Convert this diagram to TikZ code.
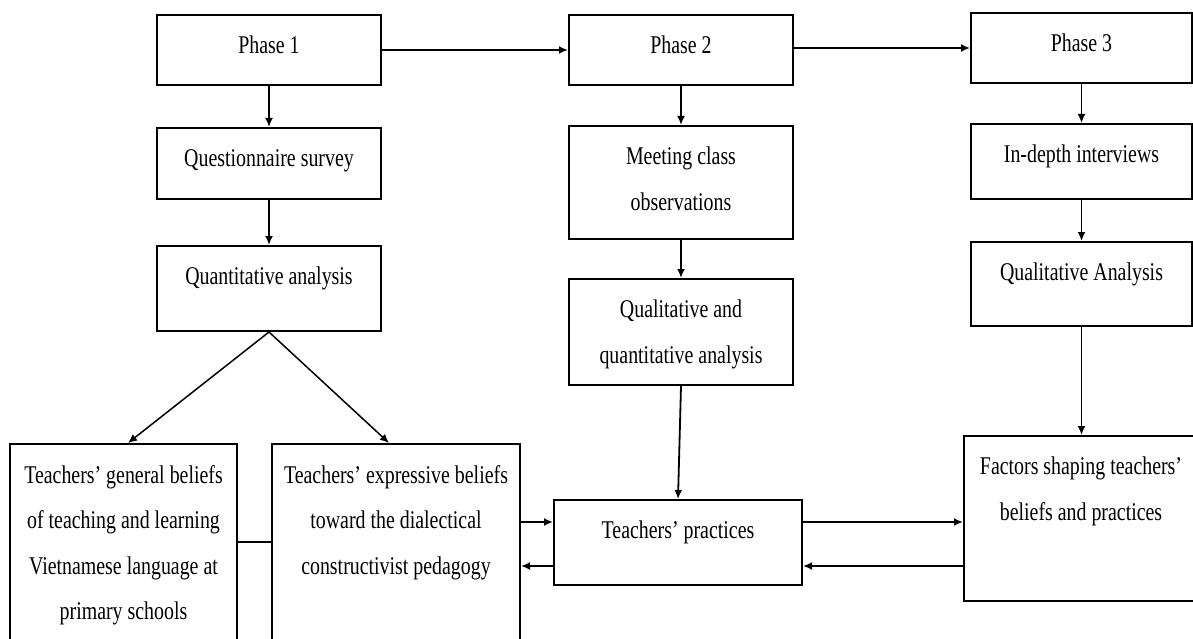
\documentclass[tikz,border=0pt]{standalone}
\usepackage{fontspec}
\setmainfont[FakeStretch=0.78]{Liberation Serif}
\usetikzlibrary{arrows.meta}
\tikzstyle{bx}=[rectangle,draw=black,line width=2pt,inner sep=0pt]
\tikzstyle{txt}=[anchor=north,inner sep=0pt,align=center,font=\fontsize{25.5}{45.5}\selectfont]
\tikzstyle{ar}=[-{Latex[length=9pt,width=8pt]},line width=1.8pt]

\begin{document}
\begin{tikzpicture}[x=1pt,y=-1pt]
\useasboundingbox (0,0) rectangle (1193,639);
% boxes: name/x/y/width/height
\foreach \n/\x/\y/\w/\h in {p1/269/50/224/70, qs/269/163.5/224/71, qa/269/288.5/224/85,
  p2/681/50/224/70, mc/681/182.5/224/113, qq/681/332/224/106,
  p3/1081.5/48/221/70, iv/1081.5/161.5/221/75, ql/1081.5/284/221/84,
  gb/123.5/552/227/216, eb/396/552/248/216, tp/678/542.5/248/85, fs/1081/518.5/234/165}
  \node[bx,minimum width=\w,minimum height=\h] (\n) at (\x,\y) {};
% texts
\foreach \n/\t in {p1/{Phase 1}, qs/{Questionnaire survey}, qa/{Quantitative analysis},
  p2/{Phase 2}, mc/{Meeting class\\observations}, qq/{Qualitative and\\quantitative analysis},
  p3/{Phase 3}, iv/{In-depth interviews}, ql/{Qualitative Analysis},
  gb/{Teachers’ general beliefs\\of teaching and learning\\Vietnamese language at\\primary schools},
  eb/{Teachers’ expressive beliefs\\toward the dialectical\\constructivist pedagogy},
  tp/{Teachers’ practices}, fs/{Factors shaping teachers’\\beliefs and practices}}
  \node[txt] (t\n) at ([yshift=-22pt]\n.north) {\t};
% phases
\draw[ar] (p1) -- (p2);
\draw[ar] (p2.east |- p3.west) -- (p3.west);
\foreach \a/\b in {p1/qs, qs/qa, p2/mc, mc/qq, p3/iv, iv/ql}
  \draw[ar] (\a) -- (\b);
\draw[ar] (qq.south) -- (tp.north);
\draw[ar] (ql.south) -- (ql.south |- fs.north);
\draw[ar,line width=1.5pt] (qa.south) -- ([xshift=4.5pt]gb.north);
\draw[ar,line width=1.5pt] (qa.south) -- ([xshift=-7pt]eb.north);
\draw[line width=1.8pt] ([yshift=10pt]gb.east) -- ([yshift=10pt]eb.west);
% links round the practices box
\path ([yshift=20.5pt]tp.west) coordinate (tpa) ([yshift=-23.5pt]tp.west) coordinate (tpb)
  ([yshift=20.5pt]tp.east) coordinate (tpc) ([yshift=-23.5pt]tp.east) coordinate (tpd);
\draw[ar] (eb.east |- tpa) -- (tpa);
\draw[ar] (tpb) -- (eb.east |- tpb);
\draw[ar] (tpc) -- (fs.west |- tpc);
\draw[ar] (fs.west |- tpd) -- (tpd);
\end{tikzpicture}
\end{document}
